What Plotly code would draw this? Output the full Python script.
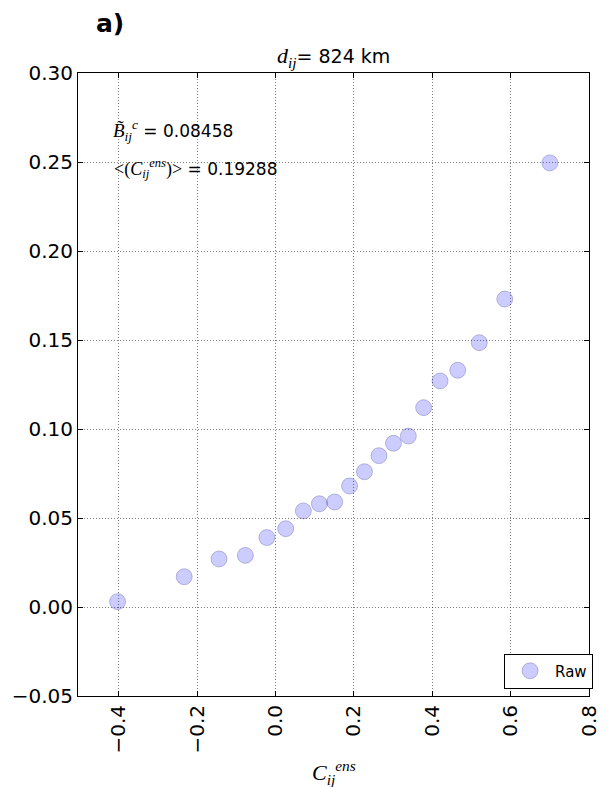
import plotly.graph_objects as go

# Data
c_ens = [-0.403, -0.233, -0.144, -0.077, -0.022, 0.026, 0.071, 0.112, 0.151, 0.189,
         0.227, 0.264, 0.301, 0.339, 0.378, 0.420, 0.465, 0.520, 0.585, 0.700]
b_vals = [0.003, 0.017, 0.027, 0.029, 0.039, 0.044, 0.054, 0.058, 0.059, 0.068,
          0.076, 0.085, 0.092, 0.096, 0.112, 0.127, 0.133, 0.1485, 0.173, 0.2495]
x_ticks = [-0.4, -0.2, 0.0, 0.2, 0.4, 0.6, 0.8]
x_tick_labels = ["\u22120.4", "\u22120.2", "0.0", "0.2", "0.4", "0.6", "0.8"]
y_ticks = [-0.05, 0.0, 0.05, 0.10, 0.15, 0.20, 0.25, 0.30]
y_tick_labels = ["\u22120.05", "0.00", "0.05", "0.10", "0.15", "0.20", "0.25", "0.30"]

SANS = "DejaVu Sans"
SERIF = "Liberation Serif"

fig = go.Figure()
fig.add_trace(go.Scatter(
    x=c_ens, y=b_vals, mode="markers", name="Raw",
    marker=dict(size=16, color="rgba(0,0,255,0.2)",
                line=dict(color="rgba(0,0,90,0.22)", width=1)),
))

axis_common = dict(
    showline=True, linecolor="black", linewidth=1, mirror="ticks",
    ticks="inside", ticklen=5, tickcolor="black", tickwidth=1,
    showgrid=True, gridcolor="rgba(0,0,0,0.5)", gridwidth=1, griddash="1px,2px",
    zeroline=False, tickfont=dict(family=SANS, size=20, color="black"),
)

fig.update_xaxes(range=[-0.504, 0.8], tickvals=x_ticks, ticktext=x_tick_labels,
                 tickangle=-90, **axis_common)
fig.update_yaxes(range=[-0.05, 0.30], tickvals=y_ticks, ticktext=y_tick_labels,
                 **axis_common)

annotations = [
    dict(text="<b>a)</b>", x=0.032, y=1.079, xref="paper", yref="paper",
         xanchor="left", yanchor="middle", showarrow=False,
         font=dict(family=SANS, size=25, color="black")),
    dict(text=f"<span style='font-family:{SERIF};font-size:22px'><i>d</i><sub><i>ij</i></sub></span>= 824 km",
         x=0.5, y=1.0, xref="paper", yref="paper", xanchor="center", yanchor="bottom",
         showarrow=False, font=dict(family=SANS, size=19, color="black")),
    dict(text=f"<span style='font-family:{SERIF};font-size:19px'><i>B\u0303</i><sub><i>ij</i></sub><sup><i>c</i></sup></span> = 0.08458",
         x=0.064, y=0.907, xref="paper", yref="paper", xanchor="left", yanchor="middle",
         showarrow=False, font=dict(family=SANS, size=17, color="black")),
    dict(text=f"<span style='font-family:{SERIF};font-size:18px'>&lt;(<i>C</i><sub><i>ij</i></sub><sup><i>ens</i></sup>)&gt;</span> = 0.19288",
         x=0.066, y=0.846, xref="paper", yref="paper", xanchor="left", yanchor="middle",
         showarrow=False, font=dict(family=SANS, size=17, color="black")),
    dict(text="<i>C</i><sub><i>ij</i></sub><sup><i>ens</i></sup>",
         x=0.5, y=-0.094, xref="paper", yref="paper", xanchor="center", yanchor="top",
         showarrow=False, font=dict(family=SERIF, size=22, color="black")),
]

fig.update_layout(
    width=613, height=787,
    margin=dict(l=76, r=12, t=73, b=91),
    plot_bgcolor="white", paper_bgcolor="white",
    showlegend=True,
    legend=dict(x=1.008, y=0.012, xanchor="right", yanchor="bottom",
                bordercolor="black", borderwidth=1, bgcolor="white",
                font=dict(family=SANS, size=15, color="black"),
                itemwidth=40),
    annotations=annotations,
)

fig.write_html("out.html")
